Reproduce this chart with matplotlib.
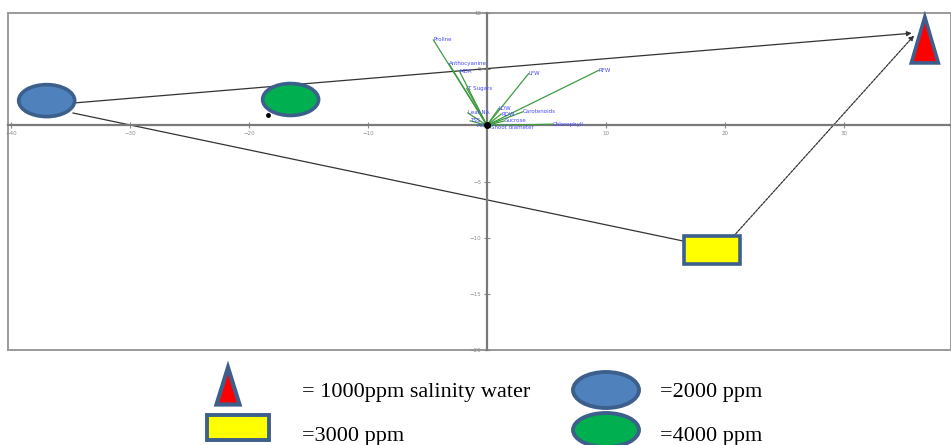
import matplotlib
matplotlib.use("Agg")
import matplotlib.pyplot as plt
from matplotlib.patches import Ellipse, Rectangle, Polygon

# ---- PCA biplot data -------------------------------------------------------
# variable loadings (arrow tips)
var_names = ["Proline", "Anthocyanine", "MDA", "T. Sugars", "Leaf No.", "TSS",
             "Ash", "LDW", "RDW", "Carotenoids", "Sucrose", "Shoot diameter",
             "Chlorophyll", "LFW", "RFW"]
var_x = [-4.5, -3.2, -2.3, -1.7, -1.6, -1.4, -0.8, 1.0, 1.2, 3.0, 1.5, 0.3,
         5.5, 3.5, 9.4]
var_y = [7.6, 5.5, 4.8, 3.3, 1.1, 0.4, 0.0, 1.5, 1.0, 1.2, 0.4, -0.2,
         0.1, 4.6, 4.9]

# treatment scores (centres of the symbols)
treatments = ["1000", "2000", "3000", "4000"]
score_x = [36.8, -37.0, 18.9, -16.5]
score_y = [7.6, 2.2, -11.1, 2.3]

# trajectory segments between treatments (start x, start y, end x, end y)
seg_x0 = [-34.6, -34.8, 20.7]
seg_y0 = [2.0, 1.1, -9.9]
seg_x1 = [35.7, 16.5, 35.9]
seg_y1 = [8.2, -10.3, 8.0]
seg_style = ["-", "-", (0, (2, 1))]
seg_head = ["-|>", "-", "-|>"]

xticks = [-40, -30, -20, -10, 10, 20, 30]
yticks = [10, 5, -5, -10, -15, -20]

legend_labels = ["= 1000ppm salinity water", "=2000 ppm", "=3000 ppm", "=4000 ppm"]

edge = "#3d5f8c"
fills = {"1000": "#ff0000", "2000": "#4f81bd", "3000": "#ffff00", "4000": "#00b050"}

W, H = 951, 445
fig = plt.figure(figsize=(W / 100, H / 100), dpi=100)
ax = fig.add_axes([8 / W, 1 - 350 / H, 943 / W, 337 / H])
ax.set_xlim(-40.25, 39.0)
ax.set_ylim(-20.0, 10.0)

# axes through the origin, plus an outer frame
for s in ("top", "right"):
    ax.spines[s].set_visible(False)
ax.spines["left"].set_position(("data", 0))
ax.spines["bottom"].set_position(("data", 0))
for s in ("left", "bottom"):
    ax.spines[s].set_color("#7a7a7a")
    ax.spines[s].set_linewidth(1.6)
ax.add_patch(Rectangle((0, 0), 1, 1, transform=ax.transAxes, fill=False,
                       ec="#9a9a9a", lw=1.4, clip_on=False))
ax.set_xticks(xticks)
ax.set_yticks(yticks)
ax.tick_params(axis="both", direction="inout", length=4, width=0.8,
               colors="#8a8a8a", labelsize=4, pad=2)

# loading vectors
for name, vx, vy in zip(var_names, var_x, var_y):
    ax.plot([0, vx], [0, vy], color="#3f9b3f", lw=0.9, zorder=3)
    ax.text(vx, vy, name, color="#4848ff", fontsize=4, ha="left", va="center",
            zorder=4)
ax.plot([0], [0], "o", color="black", ms=4, zorder=5)
ax.plot([score_x[3] - 1.9], [score_y[3] - 1.4], "o", color="black", ms=2.5,
        zorder=5)

# trajectory lines
for x0, y0, x1, y1, ls, hd in zip(seg_x0, seg_y0, seg_x1, seg_y1, seg_style,
                                  seg_head):
    ax.annotate("", xy=(x1, y1), xytext=(x0, y0),
                arrowprops=dict(arrowstyle=hd, color="#333333", lw=0.9,
                                linestyle=ls, mutation_scale=7,
                                shrinkA=0, shrinkB=0), zorder=2)


def draw_symbol(axis, kind, cx, cy, w, h, **kw):
    if kind == "1000":
        p = Polygon([(cx, cy + h / 2), (cx - w / 2, cy - h / 2),
                     (cx + w / 2, cy - h / 2)], closed=True, **kw)
    elif kind == "3000":
        p = Rectangle((cx - w / 2, cy - h / 2), w, h, **kw)
    else:
        p = Ellipse((cx, cy), w, h, **kw)
    axis.add_patch(p)


px_x = 11.9   # pixels per x unit
px_y = 11.25  # pixels per y unit
sizes = {"1000": (27, 46), "2000": (56, 32), "3000": (56, 28), "4000": (56, 32)}
for t, sx, sy in zip(treatments, score_x, score_y):
    w, h = sizes[t]
    draw_symbol(ax, t, sx, sy, w / px_x, h / px_y, fc=fills[t], ec=edge,
                lw=2.6, zorder=6, clip_on=False)

# ---- legend in pixel space under the plot ------------------------------------
lax = fig.add_axes([0, 0, 1, 1 - 352 / H])
lax.set_xlim(0, W)
lax.set_ylim(H, 352)
lax.axis("off")
leg_pos = {"1000": (228, 386, 23, 37), "2000": (606, 390, 66, 36),
           "3000": (238, 427, 62, 25), "4000": (606, 430, 66, 34)}
text_pos = [(302, 392), (660, 393), (302, 437), (660, 437)]
for t, lab, (tx, ty) in zip(treatments, legend_labels, text_pos):
    cx, cy, w, h = leg_pos[t]
    if t == "1000":
        lax.add_patch(Polygon([(cx, cy - h / 2), (cx - w / 2, cy + h / 2),
                               (cx + w / 2, cy + h / 2)], closed=True,
                              fc=fills[t], ec=edge, lw=3.0, clip_on=False))
    else:
        draw_symbol(lax, t, cx, cy, w, h, fc=fills[t], ec=edge, lw=2.8,
                    clip_on=False)
    lax.text(tx, ty, lab, fontsize=16, family="Liberation Serif",
             ha="left", va="center", color="black")

fig.savefig("out.png", dpi=100)
